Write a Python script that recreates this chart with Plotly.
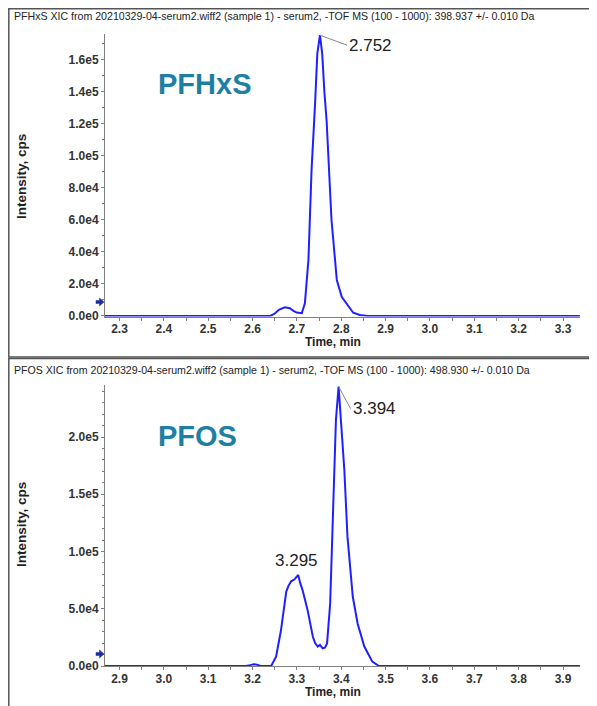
import plotly.graph_objects as go

# ---------------- data ----------------
pfhxs_time = [2.267, 2.40, 2.50, 2.60, 2.640, 2.650, 2.660, 2.673, 2.684, 2.693, 2.700, 2.711,
              2.718, 2.726, 2.733, 2.741, 2.746, 2.752, 2.757, 2.762, 2.767, 2.778, 2.790,
              2.801, 2.812, 2.820, 2.827, 2.842, 2.860, 2.950, 3.100, 3.338]
pfhxs_int = [0, 0, 0, 0, 0, 1500, 4000, 5400, 4800, 3000, 2100, 1700,
             7900, 35000, 91000, 133000, 164000, 175500, 164000, 140000, 122000, 60000, 22500,
             12000, 7900, 4500, 2000, 600, 0, 0, 0, 0]

pfos_time = [2.867, 3.000, 3.100, 3.185, 3.195, 3.203, 3.210, 3.218, 3.242, 3.253, 3.264,
             3.276, 3.281, 3.287, 3.294, 3.300, 3.303, 3.307, 3.313, 3.324, 3.336, 3.341,
             3.347, 3.352, 3.358, 3.363, 3.368, 3.375, 3.381, 3.388, 3.394, 3.399, 3.407,
             3.414, 3.426, 3.437, 3.452, 3.470, 3.485, 3.600, 3.938]
pfos_int = [0, 0, 0, 0, 800, 1500, 1200, 0, 0, 8100, 31000,
            65000, 70000, 74000, 75500, 78000, 79500, 73000, 66000, 49000, 25600, 20000,
            17000, 18500, 15400, 16000, 19800, 54700, 127000, 215000, 244000, 215000, 171000,
            113000, 60500, 37000, 17000, 3800, 0, 0, 0]

top_yticks = [0, 20000, 40000, 60000, 80000, 100000, 120000, 140000, 160000]
top_yticktext = ["0.0e0", "2.0e4", "4.0e4", "6.0e4", "8.0e4", "1.0e5", "1.2e5", "1.4e5", "1.6e5"]
bot_yticks = [0, 50000, 100000, 150000, 200000]
bot_yticktext = ["0.0e0", "5.0e4", "1.0e5", "1.5e5", "2.0e5"]

top_title = "PFHxS XIC from 20210329-04-serum2.wiff2 (sample 1) - serum2, -TOF MS (100 - 1000): 398.937 +/- 0.010 Da"
bot_title = "PFOS XIC from 20210329-04-serum2.wiff2 (sample 1) - serum2, -TOF MS (100 - 1000): 498.930 +/- 0.010 Da"
top_name = "PFHxS"
bot_name = "PFOS"
top_peaks = [(2.752, 175500)]
bot_peaks = [(3.394, 244000), (3.295, 79500)]

# ---------------- figure ----------------
OFF = 8
W, H = 597 - OFF, 706 - OFF
VS = 0.99  # observed vertical compression of the captured page
FONT = "Liberation Sans, Arial, sans-serif"
BLUE = "#1f1fff"
TEAL = "#1f7fa3"


def px(xp):
    return (xp - OFF) / W


def py(yp):
    return 1 - ((yp - OFF) / VS) / H


fig = go.Figure()

fig.add_trace(go.Scatter(x=pfhxs_time, y=pfhxs_int, mode="lines",
                         line=dict(color=BLUE, width=2), xaxis="x", yaxis="y",
                         showlegend=False, hoverinfo="skip"))
fig.add_trace(go.Scatter(x=pfos_time, y=pfos_int, mode="lines",
                         line=dict(color=BLUE, width=2), xaxis="x2", yaxis="y2",
                         showlegend=False, hoverinfo="skip"))

tickfont = dict(family=FONT, size=12, color="#333333", weight="bold")
axcommon = dict(showgrid=False, zeroline=False, showline=True, linecolor="#808080",
                linewidth=1, ticks="outside", ticklen=3, tickcolor="#808080",
                tickfont=tickfont)

xdom = [px(105), px(580)]
fig.update_layout(
    width=W, height=H, margin=dict(l=0, r=0, t=0, b=0),
    paper_bgcolor="white", plot_bgcolor="white",
    xaxis=dict(domain=xdom, anchor="y", range=[2.2673, 3.3383], tick0=2.3, dtick=0.1,
               tickformat=".1f", minor=dict(dtick=0.05, ticks="outside", ticklen=3,
                                            tickcolor="#808080"), **axcommon),
    yaxis=dict(domain=[py(316.6), py(34.4)], anchor="x", range=[-400, 176000],
               tickvals=top_yticks, ticktext=top_yticktext,
               minor=dict(dtick=10000, tick0=0, ticks="outside", ticklen=2,
                          tickcolor="#808080"), **axcommon),
    xaxis2=dict(domain=xdom, anchor="y2", range=[2.8673, 3.9383], tick0=2.9, dtick=0.1,
                tickformat=".1f", minor=dict(dtick=0.05, ticks="outside", ticklen=3,
                                             tickcolor="#808080"), **axcommon),
    yaxis2=dict(domain=[py(666.5), py(385.5)], anchor="x2", range=[-400, 245000],
                tickvals=bot_yticks, ticktext=bot_yticktext,
                minor=dict(dtick=10000, tick0=0, ticks="outside", ticklen=2,
                           tickcolor="#808080"), **axcommon),
)
try:
    fig.update_layout(xaxis_ticklabelstandoff=-2, xaxis2_ticklabelstandoff=-2)
except Exception:
    pass

# panel frames
fig.add_shape(type="rect", xref="paper", yref="paper", x0=px(8.8), x1=1.02,
              y0=py(357), y1=py(8.8), line=dict(color="#555555", width=1.5))
fig.add_shape(type="rect", xref="paper", yref="paper", x0=px(8.8), x1=1.02,
              y0=-0.02, y1=py(358.5), line=dict(color="#555555", width=1.5))


# small arrow markers beside the y axes
def arrow_path(cy):
    pts = [(96, cy - 1.5), (99.5, cy - 1.5), (99.5, cy - 4), (104, cy),
           (99.5, cy + 4), (99.5, cy + 1.5), (96, cy + 1.5)]
    return "M " + " L ".join(f"{px(x):.5f},{py(y):.5f}" for x, y in pts) + " Z"


for cy in (302, 654):
    fig.add_shape(type="path", xref="paper", yref="paper", path=arrow_path(cy),
                  fillcolor="#1c2f9c", line=dict(color="#1c2f9c", width=0.5))

ann = []
# panel headers
ann.append(dict(text=top_title, xref="paper", yref="paper", x=px(12), y=py(16),
                xanchor="left", yanchor="middle", showarrow=False,
                font=dict(family=FONT, size=10.6, color="#222222")))
ann.append(dict(text=bot_title, xref="paper", yref="paper", x=px(12), y=py(370),
                xanchor="left", yanchor="middle", showarrow=False,
                font=dict(family=FONT, size=10.6, color="#222222")))
# axis titles
for yc in (177, 525):
    ann.append(dict(text="Intensity, cps", xref="paper", yref="paper", x=px(22), y=py(yc),
                    xanchor="center", yanchor="middle", textangle=-90, showarrow=False,
                    font=dict(family=FONT, size=13.5, color="#222222", weight="bold")))
for yc in (342.5, 692.5):
    ann.append(dict(text="Time, min", xref="paper", yref="paper", x=px(333), y=py(yc),
                    xanchor="center", yanchor="middle", showarrow=False,
                    font=dict(family=FONT, size=12, color="#222222", weight="bold")))
# compound names
ann.append(dict(text=top_name, xref="paper", yref="paper", x=px(156), y=py(84),
                xanchor="left", yanchor="middle", showarrow=False,
                font=dict(family=FONT, size=29, color=TEAL, weight="bold")))
ann.append(dict(text=bot_name, xref="paper", yref="paper", x=px(156), y=py(436),
                xanchor="left", yanchor="middle", showarrow=False,
                font=dict(family=FONT, size=29, color=TEAL, weight="bold")))
# peak labels
pk = top_peaks[0]
ann.append(dict(text=f"{pk[0]:.3f}", x=pk[0], y=pk[1], xref="x", yref="y",
                showarrow=True, arrowhead=0, arrowwidth=1, arrowcolor="#888888",
                ax=27, ay=10, xanchor="left", yanchor="middle",
                font=dict(family=FONT, size=17, color="#222222")))
pk = bot_peaks[0]
ann.append(dict(text=f"{pk[0]:.3f}", x=pk[0], y=pk[1], xref="x2", yref="y2",
                showarrow=True, arrowhead=0, arrowwidth=1, arrowcolor="#888888",
                ax=12, ay=22, xanchor="left", yanchor="middle",
                font=dict(family=FONT, size=17, color="#222222")))
pk = bot_peaks[1]
ann.append(dict(text=f"{pk[0]:.3f}", x=pk[0], y=pk[1], xref="x2", yref="y2",
                showarrow=False, xanchor="center", yanchor="bottom", yshift=3, xshift=2,
                font=dict(family=FONT, size=17, color="#222222")))

fig.update_layout(annotations=ann)

fig.write_html("out.html")
